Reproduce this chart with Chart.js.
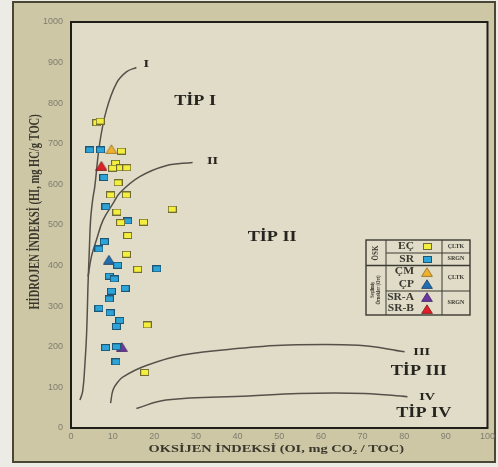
<!DOCTYPE html>
<html>
<head>
<meta charset="utf-8">
<script src="https://cdn.jsdelivr.net/npm/chart.js@4.4.1/dist/chart.umd.min.js"></script>
<style>
  html, body { margin: 0; padding: 0; background: #ecebe6; }
  #wrap { width: 498px; height: 467px; }
</style>
</head>
<body>
<div id="wrap"><canvas id="vk-chart" width="498" height="467"></canvas></div>
<script>
'use strict';

// --- veriler (OI, HI) ---
const ecOI = [6.2, 7.0, 12.1, 10.7, 10.0, 11.9, 13.4, 11.3, 9.5, 13.3, 11.0, 11.9, 17.4, 24.3, 13.6, 13.3, 16.0, 18.3, 17.7];
const ecHI = [752, 756, 682, 652, 640, 641, 641, 604, 574, 574, 532, 506, 507, 539, 474, 428, 391, 254, 137];

const srOI = [4.5, 7.1, 7.9, 8.4, 13.6, 8.0, 6.7, 11.2, 20.6, 9.2, 10.4, 13.0, 9.7, 9.2, 6.7, 9.4, 11.7, 10.9, 8.3, 10.9, 10.8];
const srHI = [685, 685, 617, 545, 510, 459, 441, 401, 392, 374, 367, 344, 337, 318, 295, 284, 265, 250, 198, 200, 163];

const cmOI = [9.7];  const cmHI = [687];
const cpOI = [9.1];  const cpHI = [415];
const sraOI = [12.2]; const sraHI = [200];
const srbOI = [7.3];  const srbHI = [646];

// kerojen tipi eğrileri
const curveIOI = [2.15, 2.8, 3.3, 3.75, 4.1, 4.4, 4.7, 5.2, 5.7, 6.9, 8.5, 10.9, 13.3, 15.7];
const curveIHI = [69, 90, 151, 234, 357, 438, 512, 562, 594, 702, 783, 849, 877, 888];
const curveIIOI = [4.1, 4.9, 6.1, 7.7, 10.1, 11.7, 16.5, 22.8, 29.2];
const curveIIHI = [373, 422, 463, 512, 553, 579, 619, 646, 654];
const curveIIIOI = [9.5, 10.1, 11.3, 12.5, 17.3, 26.8, 42.7, 50.7, 69, 80.1];
const curveIIIHI = [61, 94, 114, 126, 151, 180, 198, 204, 204, 188];
const curveIVOI = [15.7, 22.8, 42.7, 54.6, 70.5, 80.8];
const curveIVHI = [48, 69, 79, 85, 85, 77];

// eğri / alan etiketleri
const typeLabels = ['I', 'II', 'III', 'IV', 'TİP I', 'TİP II', 'TİP III', 'TİP IV'];
const typeLabelOI = [18.1, 34.0, 84.2, 85.5, 29.8, 48.3, 83.5, 84.7];
const typeLabelHI = [896, 657, 188, 77, 804, 469, 139, 36];

const xTicks = [0, 10, 20, 30, 40, 50, 60, 70, 80, 90, 100];
const yTicks = [0, 100, 200, 300, 400, 500, 600, 700, 800, 900, 1000];

const xTitle = 'OKSİJEN İNDEKSİ (OI, mg CO₂ / TOC)';
const yTitle = 'HİDROJEN İNDEKSİ (HI, mg HC/g TOC)';

const SERIF = '"Liberation Serif", "DejaVu Serif", serif';
const STRETCH = 1.3;   // görüntüdeki yatay yayvanlık

function toXY(xs, ys) {
    return xs.map((x, i) => ({ x, y: ys[i] }));
}

function makeRect(fill, stroke) {
    const c = document.createElement('canvas');
    c.width = 9; c.height = 7;
    const g = c.getContext('2d');
    g.fillStyle = fill;
    g.fillRect(0, 0, 9, 7);
    g.strokeStyle = stroke;
    g.lineWidth = 1;
    g.strokeRect(0.5, 0.5, 8, 6);
    return c;
}

function makeTriangle(fill, stroke) {
    const c = document.createElement('canvas');
    c.width = 12; c.height = 10;
    const g = c.getContext('2d');
    g.beginPath();
    g.moveTo(6, 0.8);
    g.lineTo(11.4, 9.4);
    g.lineTo(0.6, 9.4);
    g.closePath();
    g.fillStyle = fill;
    g.fill();
    g.strokeStyle = stroke;
    g.lineWidth = 0.8;
    g.stroke();
    return c;
}

const markers = {
    ec: makeRect('#f4ee3e', '#6f6b32'),
    sr: makeRect('#2da4d8', '#1d5575'),
    cm: makeTriangle('#f0b12a', '#8c6a22'),
    cp: makeTriangle('#1f6fb2', '#173f66'),
    sra: makeTriangle('#6a36a2', '#3d2060'),
    srb: makeTriangle('#e11f26', '#7a1616')
};

function pointSet(label, xs, ys, marker, group) {
    return {
        label, group,
        data: toXY(xs, ys),
        pointStyle: marker,
        pointRadius: 5,
        showLine: false
    };
}

function curveSet(label, xs, ys) {
    return {
        label,
        data: toXY(xs, ys),
        showLine: true,
        pointRadius: 0,
        borderColor: '#55514a',
        borderWidth: 1.5,
        tension: 0.4,
        isCurve: true
    };
}

function stretchedText(ctx, text, x, y, opts) {
    ctx.save();
    ctx.translate(x, y);
    ctx.scale(opts.stretch || STRETCH, 1);
    if (opts.rotate) ctx.rotate(opts.rotate);
    ctx.font = opts.font;
    ctx.fillStyle = opts.color || '#2e2c25';
    ctx.textAlign = opts.align || 'center';
    ctx.textBaseline = 'middle';
    ctx.fillText(text, 0, 0);
    ctx.restore();
}

// çerçeve ve arka plan
const framePlugin = {
    id: 'frame',
    beforeDraw(chart) {
        const { ctx, chartArea: a, width, height } = chart;
        ctx.save();
        ctx.fillStyle = '#ecebe6';
        ctx.fillRect(0, 0, width, height);
        ctx.fillStyle = '#cdc7a5';
        ctx.fillRect(13, 2, 482, 460);
        ctx.strokeStyle = '#4a4636';
        ctx.lineWidth = 2;
        ctx.strokeRect(13, 2, 482, 460);
        ctx.fillStyle = '#e1dcc8';
        ctx.fillRect(a.left, a.top, a.right - a.left, a.bottom - a.top);
        ctx.restore();
    },
    afterDraw(chart) {
        const { ctx, chartArea: a } = chart;
        ctx.save();
        ctx.strokeStyle = '#1f1e19';
        ctx.lineWidth = 2;
        ctx.strokeRect(a.left, a.top, a.right - a.left, a.bottom - a.top);
        ctx.restore();

        stretchedText(ctx, xTitle, (a.left + a.right) / 2 - 3, 449,
            { font: 'bold 10.5px ' + SERIF, stretch: 1.37, color: '#3a372d' });
        stretchedText(ctx, yTitle, 35, 212,
            { font: 'bold 10.5px ' + SERIF, stretch: 1.33, rotate: -Math.PI / 2, color: '#3a372d' });
    }
};

// tip etiketleri
const typeLabelPlugin = {
    id: 'typeLabels',
    afterDatasetsDraw(chart) {
        const { ctx, scales } = chart;
        typeLabels.forEach((t, i) => {
            const big = t.startsWith('TİP');
            stretchedText(ctx, t,
                scales.x.getPixelForValue(typeLabelOI[i]),
                scales.y.getPixelForValue(typeLabelHI[i]),
                { font: 'bold ' + (big ? 14 : 11) + 'px ' + SERIF, color: '#26241f' });
        });
    }
};

// tablo şeklindeki lejant
const tableLegendPlugin = {
    id: 'tableLegend',
    afterDraw(chart) {
        const ctx = chart.ctx;
        const x0 = 366, x1 = 470, y0 = 240, y1 = 315, c1 = 386, c2 = 442;
        const rowY = [246.5, 259, 271.8, 284.3, 297, 308.5];
        const sets = chart.data.datasets.filter(d => !d.isCurve);

        ctx.save();
        ctx.strokeStyle = '#3b3a33';
        ctx.lineWidth = 1.4;
        ctx.strokeRect(x0, y0, x1 - x0, y1 - y0);
        ctx.lineWidth = 1;
        ctx.beginPath();
        ctx.moveTo(c1, y0); ctx.lineTo(c1, y1);
        ctx.moveTo(c2, y0); ctx.lineTo(c2, y1);
        ctx.moveTo(c1, 253); ctx.lineTo(x1, 253);
        ctx.moveTo(c1, 291); ctx.lineTo(x1, 291);
        ctx.stroke();
        ctx.lineWidth = 1.6;
        ctx.beginPath();
        ctx.moveTo(x0, 265.5); ctx.lineTo(x1, 265.5);
        ctx.stroke();
        ctx.restore();

        sets.forEach((d, i) => {
            stretchedText(ctx, d.label, 414, rowY[i],
                { font: 'bold 10px ' + SERIF, stretch: 1.15, align: 'right', color: '#3a3830' });
            const m = d.pointStyle;
            ctx.drawImage(m, Math.round(427 - m.width / 2), Math.round(rowY[i] - m.height / 2));
        });

        const groupText = { font: 'bold 5.5px ' + SERIF, stretch: 1.1, color: '#3a3830' };
        stretchedText(ctx, 'ÇLTK', 456, rowY[0], groupText);
        stretchedText(ctx, 'SRGN', 456, rowY[1], groupText);
        stretchedText(ctx, 'ÇLTK', 456, 278, groupText);
        stretchedText(ctx, 'SRGN', 456, 303, groupText);

        stretchedText(ctx, 'ÖSK', 376, 253,
            { font: 'bold 7px ' + SERIF, stretch: 1.2, rotate: -Math.PI / 2, color: '#3a3830' });
        stretchedText(ctx, 'Seçilmiş', 372.5, 290,
            { font: 'bold 4.5px ' + SERIF, stretch: 1.2, rotate: -Math.PI / 2, color: '#3a3830' });
        stretchedText(ctx, 'Örnekler (Ort)', 379, 290,
            { font: 'bold 4.5px ' + SERIF, stretch: 1.2, rotate: -Math.PI / 2, color: '#3a3830' });
    }
};

const tickFont = { family: '"Liberation Sans", Arial, sans-serif', size: 9 };

new Chart(document.getElementById('vk-chart'), {
    type: 'scatter',
    data: {
        datasets: [
            pointSet('EÇ', ecOI, ecHI, markers.ec, 'ÇLTK'),
            pointSet('SR', srOI, srHI, markers.sr, 'SRGN'),
            pointSet('ÇM', cmOI, cmHI, markers.cm, 'ÇLTK'),
            pointSet('ÇP', cpOI, cpHI, markers.cp, 'ÇLTK'),
            pointSet('SR-A', sraOI, sraHI, markers.sra, 'SRGN'),
            pointSet('SR-B', srbOI, srbHI, markers.srb, 'SRGN'),
            curveSet('I', curveIOI, curveIHI),
            curveSet('II', curveIIOI, curveIIHI),
            curveSet('III', curveIIIOI, curveIIIHI),
            curveSet('IV', curveIVOI, curveIVHI)
        ]
    },
    options: {
        responsive: false,
        animation: false,
        events: [],
        layout: { padding: { left: 0, right: 8, top: 22, bottom: 0 } },
        plugins: {
            legend: { display: false },
            tooltip: { enabled: false }
        },
        scales: {
            x: {
                type: 'linear', min: 0, max: 100,
                afterBuildTicks: (s) => { s.ticks = xTicks.map(v => ({ value: v })); },
                afterFit: (s) => { s.height = 39; },
                ticks: { font: tickFont, color: '#7f7c6e', padding: 3, callback: (v) => String(v) },
                grid: { display: false, drawTicks: false },
                border: { display: false }
            },
            y: {
                type: 'linear', min: 0, max: 1000,
                afterBuildTicks: (s) => { s.ticks = yTicks.map(v => ({ value: v })); },
                afterFit: (s) => { s.width = 71; },
                ticks: { font: tickFont, color: '#7f7c6e', padding: 8, callback: (v) => String(v) },
                grid: { display: false, drawTicks: false },
                border: { display: false }
            }
        }
    },
    plugins: [framePlugin, typeLabelPlugin, tableLegendPlugin]
});
</script>
</body>
</html>
